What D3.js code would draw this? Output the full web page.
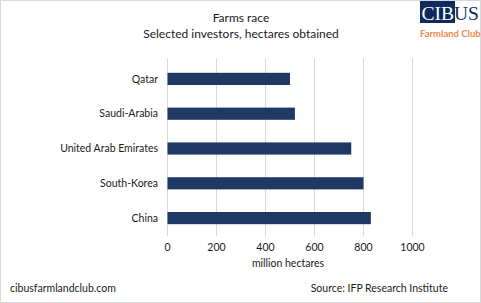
<!DOCTYPE html>
<html><head><meta charset="utf-8">
<script src="https://cdn.jsdelivr.net/npm/d3@7"></script>
<style>body{margin:0;background:#fff}svg{display:block}</style>
</head><body>
<script>
const categories = ["Qatar","Saudi-Arabia","United Arab Emirates","South-Korea","China"];
const values = [500, 520, 750, 800, 830];
const tickValues = [0, 200, 400, 600, 800, 1000];

const W = 481, H = 303;
const font = "Lato, 'Open Sans', sans-serif";
const svg = d3.select("body").append("svg").attr("width", W).attr("height", H);
svg.append("rect").attr("x",0.5).attr("y",0.5).attr("width",W-1).attr("height",H-1)
  .attr("fill","#fff").attr("stroke","#d9d9d9");

const x = d3.scaleLinear().domain([0,1000]).range([167.5, 412.5]);
const y = d3.scaleBand().domain(categories).range([61.5, 235.5]).paddingInner(0.65).paddingOuter(0.325);

svg.append("g").selectAll("line").data(tickValues).join("line")
  .attr("x1", d=>x(d)).attr("x2", d=>x(d)).attr("y1", 58).attr("y2", 236)
  .attr("stroke","#d9d9d9").attr("stroke-width",1);

svg.append("g").selectAll("rect").data(values).join("rect")
  .attr("x", x(0)).attr("y",(d,i)=>y(categories[i]))
  .attr("width", d=>x(d)-x(0)).attr("height", y.bandwidth()).attr("fill","#203864");

svg.append("g").selectAll("text").data(categories).join("text")
  .attr("x", 158).attr("y", d=>y(d)+y.bandwidth()/2).attr("dy","0.35em")
  .attr("text-anchor","end").attr("font-family",font).attr("font-size",10.5).attr("fill","#1a1a1a")
  .text(d=>d);

svg.append("g").selectAll("text").data(tickValues).join("text")
  .attr("x", d=>x(d)).attr("y", 251).attr("text-anchor","middle")
  .attr("font-family",font).attr("font-size",10.5).attr("fill","#1a1a1a").text(d=>d);

svg.append("text").attr("x",288).attr("y",267).attr("text-anchor","middle")
  .attr("font-family",font).attr("font-size",10.5).attr("fill","#1a1a1a").text("million hectares");

svg.append("text").attr("x",241).attr("y",22).attr("text-anchor","middle")
  .attr("font-family",font).attr("font-size",12).attr("fill","#1a1a1a").text("Farms race");
svg.append("text").attr("x",241).attr("y",38).attr("text-anchor","middle")
  .attr("font-family",font).attr("font-size",12).attr("fill","#1a1a1a").text("Selected investors, hectares obtained");

svg.append("text").attr("x",10).attr("y",292)
  .attr("font-family",font).attr("font-size",10.5).attr("fill","#1a1a1a").text("cibusfarmlandclub.com");
svg.append("text").attr("x",448).attr("y",292).attr("text-anchor","end")
  .attr("font-family",font).attr("font-size",10.5).attr("fill","#1a1a1a").text("Source: IFP Research Institute");

// logo
const box = svg.append("rect").attr("x",420).attr("y",1).attr("height",22).attr("fill","#0f2a5c");
const logo = svg.append("text").attr("x",421.5).attr("y",19.5).attr("font-family","'Liberation Serif', serif").attr("font-size",19.5);
const t1 = logo.append("tspan").attr("fill","#fff").text("CIB");
logo.append("tspan").attr("fill","#0f2a5c").text("US");
box.attr("width", 1.5 + t1.node().getComputedTextLength() + 1);
svg.append("text").attr("x",420).attr("y",37).attr("font-family",font).attr("font-weight","bold")
  .attr("font-size",9.5).attr("fill","#f08a4b").text("Farmland Club");
</script>
</body></html>
